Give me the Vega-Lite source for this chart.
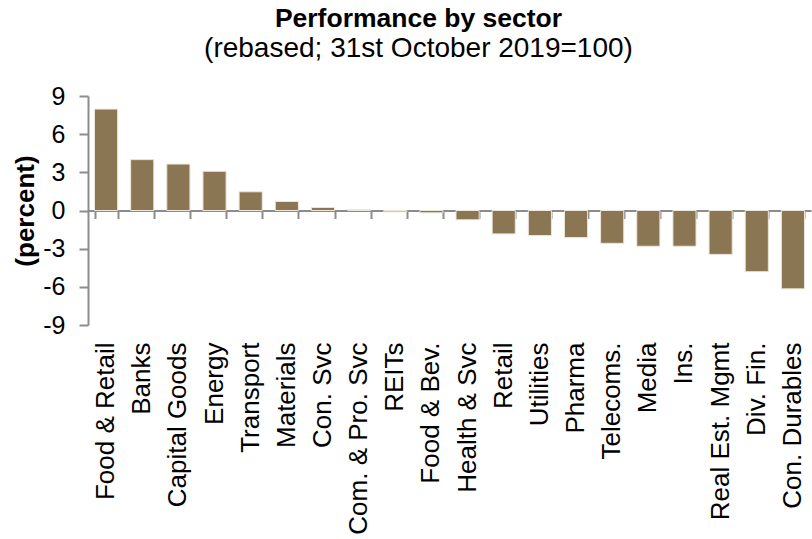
{
  "$schema": "https://vega.github.io/schema/vega-lite/v6.json",
  "width": 723,
  "height": 229,
  "autosize": "none",
  "padding": {"left": 88, "top": 96, "right": 1, "bottom": 214},
  "background": "white",
  "title": {
    "text": "Performance by sector",
    "subtitle": "(rebased; 31st October 2019=100)",
    "font": "Liberation Sans",
    "fontSize": 26.5,
    "fontWeight": "bold",
    "color": "black",
    "subtitleFont": "Liberation Sans",
    "subtitleFontSize": 28,
    "subtitleColor": "black",
    "subtitlePadding": 3,
    "anchor": "middle",
    "dx": -31,
    "offset": 21
  },
  "config": {
    "view": {"stroke": null},
    "axis": {"grid": false, "labelOverlap": false}
  },
  "data": {
    "values": [
      {"sector": "Food & Retail", "value": 7.97},
      {"sector": "Banks", "value": 4.0},
      {"sector": "Capital Goods", "value": 3.65},
      {"sector": "Energy", "value": 3.08},
      {"sector": "Transport", "value": 1.47},
      {"sector": "Materials", "value": 0.71},
      {"sector": "Con. Svc", "value": 0.24},
      {"sector": "Com. & Pro. Svc", "value": 0.08},
      {"sector": "REITs", "value": -0.1},
      {"sector": "Food & Bev.", "value": -0.18},
      {"sector": "Health & Svc", "value": -0.73},
      {"sector": "Retail", "value": -1.84},
      {"sector": "Utilities", "value": -1.97},
      {"sector": "Pharma", "value": -2.13},
      {"sector": "Telecoms.", "value": -2.58},
      {"sector": "Media", "value": -2.81},
      {"sector": "Ins.", "value": -2.81},
      {"sector": "Real Est. Mgmt", "value": -3.45},
      {"sector": "Div. Fin.", "value": -4.81},
      {"sector": "Con. Durables", "value": -6.16}
    ]
  },
  "encoding": {
    "y": {
      "field": "value", "type": "quantitative",
      "scale": {"domain": [-9, 9], "nice": false},
      "axis": {
        "values": [-9, -6, -3, 0, 3, 6, 9],
        "labelExpr": "'' + datum.value",
        "labelOverlap": false,
        "title": "(percent)", "titleFont": "Liberation Sans", "titleFontSize": 26,
        "titleFontWeight": "bold", "titleColor": "black", "titlePadding": 4,
        "labelFont": "Liberation Sans", "labelFontSize": 25, "labelColor": "black",
        "labelPadding": 14, "domainColor": "#8c8c8c", "domainWidth": 2,
        "tickColor": "#8c8c8c", "tickWidth": 2, "tickSize": 9
      }
    }
  },
  "layer": [
    {
      "mark": {"type": "bar", "color": "#8B7653", "stroke": "#EDE6DA", "strokeWidth": 1},
      "encoding": {
        "x": {
          "field": "sector", "type": "nominal", "sort": null,
          "scale": {"paddingInner": 0.36, "paddingOuter": 0.18},
          "axis": {
            "orient": "bottom", "title": null, "labelAngle": -90,
            "labelFont": "Liberation Sans", "labelFontSize": 26, "labelColor": "black",
            "labelPadding": 17, "labelLimit": 0,
            "domain": false, "ticks": false
          }
        }
      }
    },
    {
      "mark": {"type": "bar", "opacity": 0},
      "encoding": {
        "x": {
          "field": "sector", "type": "nominal", "sort": null,
          "axis": {
            "orient": "bottom", "offset": -114.5, "title": null, "labels": false,
            "domainColor": "#8c8c8c", "domainWidth": 2,
            "tickColor": "#8c8c8c", "tickWidth": 2, "tickSize": 8, "tickBand": "extent"
          }
        }
      }
    }
  ],
  "resolve": {"axis": {"x": "independent"}}
}
